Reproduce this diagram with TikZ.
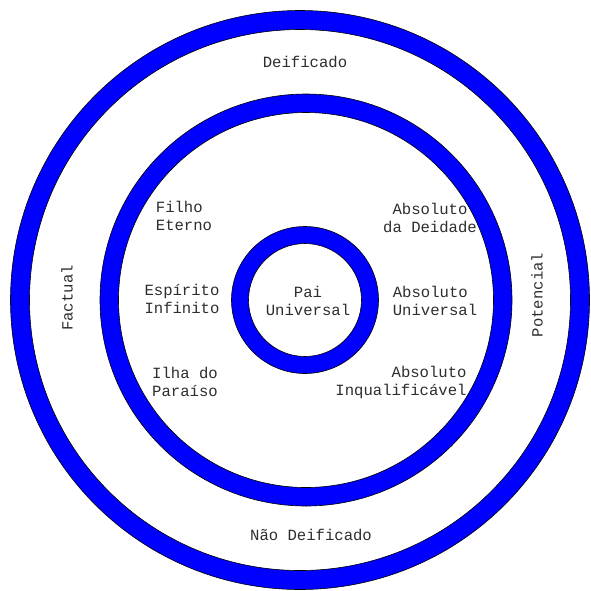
\documentclass[tikz,border=0pt]{standalone}
\usepackage{fontspec}
\setmonofont{Liberation Mono}
\usepackage{xcolor}
\usepackage{tikz}
\usetikzlibrary{positioning}
\definecolor{ringblue}{HTML}{0000FF}
\definecolor{labelgray}{HTML}{2E2E2E}

\begin{document}
\begin{tikzpicture}[x=1pt, y=-1pt,
    ring/.style={fill=ringblue, draw=black, line width=0.6pt, even odd rule},
    lbl/.style={font=\ttfamily\fontsize{15.6}{18}\selectfont, color=labelgray, inner sep=0pt, align=#1},
    lbl/.default=center
]
    \useasboundingbox (0,0) rectangle (591,590);
    \clip (0,0) rectangle (591,590);
    \fill[white] (0,0) rectangle (591,590);

    % Rings
    \coordinate (outerc) at (300,300);
    \coordinate (midc) at (306,300);
    \coordinate (innerc) at (305,300);
    \path[ring] (outerc) circle (289.5) (outerc) circle (270.5);
    \path[ring] (midc) circle (206) (midc) circle (187.5);
    \path[ring] (innerc) circle (73.5) (innerc) circle (56.5);

    % Outer band
    \node[lbl] (deif) at (305,62) {Deificado};
    \node[lbl] (naodeif) at (311,535) {Não Deificado};
    \node[lbl, rotate=90] (factual) at (67,298) {Factual};
    \node[lbl, rotate=90] (potencial) at (537,295) {Potencial};

    % Middle band
    \node[lbl=left] (filho) at (184,216) {Filho\\Eterno};
    \node[lbl] (espirito) at (182,298.5) {Espírito\\Infinito};
    \node[lbl] (ilha) at (185,382) {Ilha do\\Paraíso};
    \node[lbl] (absdeid) at (430,217.5) {Absoluto\\da Deidade};
    \node[lbl=left] (absuniv) at (435,300.5) {Absoluto\\Universal};
    \node[lbl=right] (absinq) at (401,382) {Absoluto\\Inqualificável};

    % Centre
    \node[lbl] (pai) at (308,300.5) {Pai\\Universal};
\end{tikzpicture}
\end{document}
